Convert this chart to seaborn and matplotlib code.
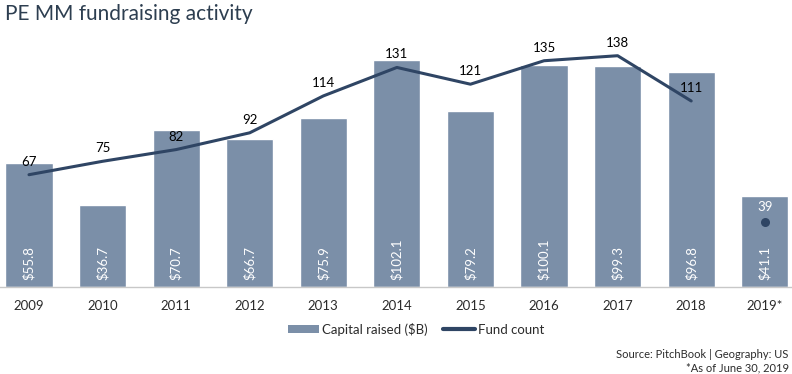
import numpy as np
import pandas as pd
import matplotlib
matplotlib.use("Agg")
import matplotlib.pyplot as plt
from matplotlib.lines import Line2D
from matplotlib.patches import Patch
import seaborn as sns

# --- DATA ---
years = ["2009", "2010", "2011", "2012", "2013", "2014", "2015", "2016", "2017", "2018", "2019*"]
capital = [55.8, 36.7, 70.7, 66.7, 75.9, 102.1, 79.2, 100.1, 99.3, 96.8, 41.1]
fund_count = [67, 75, 82, 92, 114, 131, 121, 135, 138, 111]
partial_count = [39]

BAR_COLOR = "#7b8fa8"
LINE_COLOR = "#2f4564"
TEXT_COLOR = "#2b2b2b"

sns.set_theme(style="white")
plt.rcParams['font.family'] = ['Lato', 'DejaVu Sans']

fig = plt.figure(figsize=(7.92, 3.74), dpi=100)
ax = fig.add_axes([0, 1 - 287 / 374, 1, (287 - 30) / 374])

df = pd.DataFrame({"year": years, "capital": capital})
sns.barplot(data=df, x="year", y="capital", color=BAR_COLOR, saturation=1,
            width=0.64, ax=ax)
ax.set_ylim(0, 257 / 2.222)
ax.set_xlim(-0.394, 10.37)

# capital labels inside bars
for i, v in enumerate(capital):
    ax.annotate(f"${v:.1f}", (i, 0), xytext=(0, 5), textcoords="offset points",
                rotation=90, ha="center", va="bottom", color="white", fontsize=9.5)

# --- fund count line ---
ax2 = ax.twinx()
line_df = pd.DataFrame({"x": np.arange(len(fund_count)), "count": fund_count})
sns.lineplot(data=line_df, x="x", y="count", color=LINE_COLOR, linewidth=2.2, ax=ax2)
ax2.scatter([10], partial_count, color=LINE_COLOR, s=30, zorder=5)
ax2.set_ylim(0, 257 / 1.676)
ax2.set_xlim(-0.394, 10.37)

for i, v in enumerate(fund_count):
    ax2.annotate(str(v), (i, v), xytext=(0, 5), textcoords="offset points",
                 ha="center", va="bottom", color="black", fontsize=9.5)
ax2.annotate(str(partial_count[0]), (10, partial_count[0]), xytext=(0, 6),
             textcoords="offset points", ha="center", va="bottom",
             color="white", fontsize=9.5)

for a in (ax, ax2):
    a.set_yticks([])
    a.set_ylabel("")
    a.set_xlabel("")
    for s in ("top", "left", "right"):
        a.spines[s].set_visible(False)
    a.spines["bottom"].set_color("#c8c8c8")
    a.spines["bottom"].set_linewidth(1)
ax2.spines["bottom"].set_visible(False)
ax.tick_params(axis="x", length=0, pad=9, labelsize=9.5, labelcolor=TEXT_COLOR)

# --- legend ---
handles = [Patch(facecolor=BAR_COLOR, edgecolor="none"),
           Line2D([0], [0], color=LINE_COLOR, linewidth=3)]
fig.legend(handles, ["Capital raised ($B)", "Fund count"], loc="center",
           bbox_to_anchor=(0.525, 1 - 329 / 374), ncol=2, frameon=False,
           fontsize=9.5, handlelength=2.4, handleheight=0.6, handletextpad=0.2,
           columnspacing=1.2, labelcolor=TEXT_COLOR)

# --- title & notes ---
fig.text(0.006, 1 - 14 / 374, "PE MM fundraising activity", fontsize=15,
         color="#2d3e50", va="center", ha="left")
fig.text(0.996, 1 - 354 / 374, "Source: PitchBook | Geography: US", fontsize=8,
         color=TEXT_COLOR, ha="right", va="center")
fig.text(0.996, 1 - 368 / 374, "*As of June 30, 2019", fontsize=8,
         color=TEXT_COLOR, ha="right", va="center")

fig.savefig("out.png", dpi=100)
